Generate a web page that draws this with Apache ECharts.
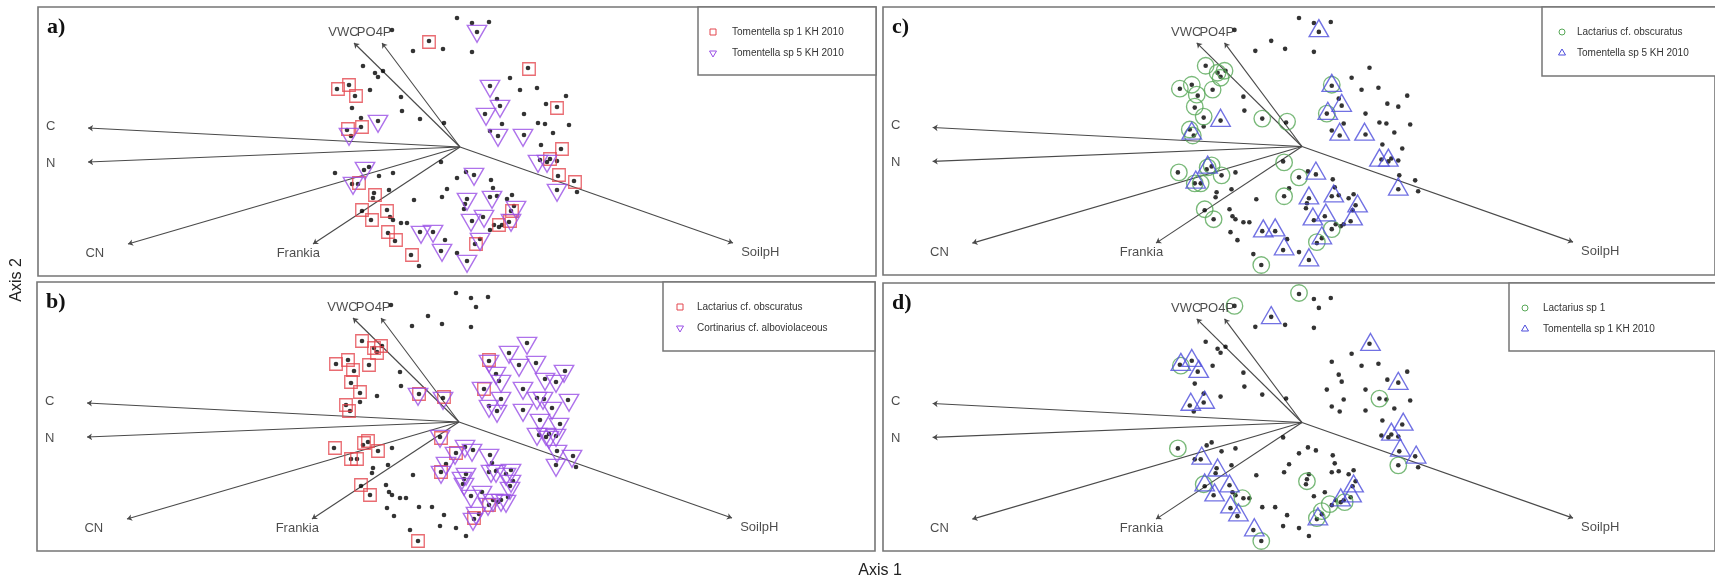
<!DOCTYPE html>
<html><head><meta charset="utf-8">
<script src="https://cdn.jsdelivr.net/npm/echarts@6/dist/echarts.min.js"></script>
<style>html,body{margin:0;padding:0;background:#fff}#c{width:1715px;height:580px}</style>
</head><body><div id="c"></div>
<script>
// ---- Data (ordination scores) ----
const envNames = ['C', 'N', 'CN', 'Frankia', 'VWC', 'PO4P', 'SoilpH'];
const envScores = [[-3.72, 0.19], [-3.72, -0.15], [-3.32, -0.97], [-1.47, -0.97], [-1.06, 1.04], [-0.78, 1.04], [2.73, -0.96]];

const sites = [
  [-0.03,1.29],[0.12,1.24],[0.29,1.25],[0.17,1.15],[-0.68,1.17],[-0.31,1.06],[-0.47,0.96],[-0.17,0.98],[0.12,0.95],
  [-0.97,0.81],[-0.85,0.74],[-0.77,0.76],[-0.82,0.70],[-1.23,0.58],[-1.11,0.62],[-1.05,0.51],[-0.90,0.57],[-0.59,0.50],
  [-1.08,0.39],[-0.58,0.36],[-0.99,0.29],[-0.82,0.26],[-0.40,0.28],[-0.16,0.24],[-1.13,0.17],[-0.99,0.20],[-1.09,0.11],
  [0.68,0.79],[0.50,0.69],[0.30,0.61],[0.60,0.57],[0.77,0.59],[0.37,0.48],[1.06,0.51],[0.40,0.41],[0.86,0.43],[0.97,0.40],
  [0.25,0.33],[0.64,0.33],[0.42,0.23],[0.78,0.24],[0.85,0.23],[1.09,0.22],[0.30,0.16],[0.38,0.11],[0.64,0.12],[0.93,0.14],
  [0.81,0.02],[1.01,-0.02],[0.90,-0.12],[0.80,-0.13],[0.87,-0.15],[0.97,-0.14],[0.98,-0.29],[1.14,-0.34],[1.17,-0.45],[0.97,-0.43],
  [-1.25,-0.26],[-0.91,-0.20],[-0.96,-0.23],[-1.08,-0.37],[-1.02,-0.37],[-0.81,-0.29],[-0.67,-0.26],[-0.71,-0.43],[-0.86,-0.46],
  [-0.87,-0.51],[-0.73,-0.63],[-0.98,-0.64],[-0.89,-0.73],[-0.70,-0.70],[-0.67,-0.73],[-0.59,-0.76],[-0.53,-0.76],[-0.72,-0.86],
  [-0.65,-0.94],[-0.46,-0.53],[-0.40,-0.85],[-0.27,-0.85],[-0.15,-0.93],[-0.49,-1.08],[-0.41,-1.19],[-0.19,-1.04],[-0.03,-1.06],[0.07,-1.14],
  [-0.19,-0.15],[0.06,-0.25],[0.14,-0.28],[-0.03,-0.31],[0.31,-0.33],[0.33,-0.41],[-0.13,-0.42],[-0.18,-0.50],[0.30,-0.50],[0.37,-0.49],
  [0.47,-0.52],[0.52,-0.48],[0.05,-0.57],[0.04,-0.62],[0.51,-0.64],[0.54,-0.59],[0.23,-0.70],[0.12,-0.74],[0.42,-0.78],[0.49,-0.75],
  [0.34,-0.78],[0.39,-0.80],[0.15,-0.97],[0.20,-0.92],[0.30,-0.83],[0.07,-0.52]
];

const tomentella1 = [
  [-0.31,1.05],[-1.22,0.58],[-1.11,0.62],[-1.04,0.51],[-1.12,0.18],[-0.98,0.20],[-1.01,-0.36],[-0.85,-0.48],[-0.98,-0.63],
  [-0.88,-0.73],[-0.73,-0.64],[-0.72,-0.85],[-0.64,-0.93],[-0.48,-1.08],[0.69,0.78],[0.97,0.39],[1.02,-0.02],[0.90,-0.12],
  [0.99,-0.28],[1.15,-0.35],[0.52,-0.64],[0.50,-0.74],[0.39,-0.78],[0.16,-0.97]
];
const tomentella5 = [
  [0.17,1.16],[-0.82,0.26],[-1.11,0.13],[-0.95,-0.21],[-1.07,-0.36],[0.30,0.61],[0.40,0.41],[0.26,0.33],[0.38,0.12],[0.63,0.12],
  [0.78,-0.14],[0.87,-0.14],[0.97,-0.43],[0.14,-0.27],[0.07,-0.52],[0.32,-0.50],[0.56,-0.60],[0.51,-0.73],[0.11,-0.73],[0.24,-0.69],
  [-0.39,-0.85],[-0.27,-0.84],[-0.18,-1.03],[0.07,-1.14],[0.20,-0.92]
];
const lactariusObscuratus = [
  [-0.97,0.81],[-0.85,0.74],[-0.78,0.76],[-0.82,0.69],[-1.23,0.58],[-1.11,0.62],[-1.06,0.52],[-0.90,0.57],[-1.08,0.40],[-0.99,0.30],
  [-1.13,0.17],[-1.10,0.11],[-0.40,0.28],[-0.15,0.25],[-1.24,-0.26],[-0.95,-0.21],[-0.91,-0.19],[-0.81,-0.29],[-1.08,-0.37],[-1.02,-0.37],
  [-0.98,-0.63],[-0.89,-0.73],[-0.18,-0.16],[-0.03,-0.31],[-0.18,-0.50],[-0.41,-1.19],[0.15,-0.96],[0.30,-0.83],[0.25,0.33],[0.30,0.62]
];
const cortinarius = [
  [0.68,0.79],[0.50,0.70],[0.30,0.61],[0.60,0.57],[0.77,0.60],[0.37,0.49],[1.05,0.51],[0.42,0.41],[0.86,0.43],[0.97,0.41],
  [0.23,0.34],[0.64,0.34],[0.42,0.24],[0.78,0.24],[0.84,0.24],[1.10,0.22],[0.30,0.16],[0.38,0.11],[0.64,0.12],[0.93,0.14],
  [0.81,0.02],[1.00,-0.02],[0.78,-0.12],[0.87,-0.12],[0.90,-0.15],[0.97,-0.13],[0.98,-0.29],[1.13,-0.34],[0.97,-0.43],
  [-0.41,0.28],[-0.16,0.24],[-0.19,-0.14],[-0.04,-0.31],[0.06,-0.24],[0.13,-0.28],[0.30,-0.33],[-0.13,-0.41],[-0.18,-0.50],
  [0.03,-0.56],[0.05,-0.62],[0.32,-0.49],[0.37,-0.49],[0.47,-0.52],[0.52,-0.48],[0.52,-0.59],[0.51,-0.66],[0.12,-0.74],
  [0.23,-0.70],[0.34,-0.78],[0.42,-0.78],[0.47,-0.79],[0.17,-0.91],[0.14,-0.97],[0.29,-0.82],[0.07,-0.52]
];
const lactarius1 = [
  [-0.03,1.30],[-0.68,1.17],[-1.22,0.57],[0.78,0.24],[0.97,-0.43],[-1.25,-0.26],[-0.99,-0.62],[-0.60,-0.76],[0.05,-0.59],
  [0.28,-0.82],[0.43,-0.80],[0.20,-0.89],[0.15,-0.96],[-0.41,-1.19]
];

const panelLetters = ['a)', 'b)', 'c)', 'd)'];
const axisTitles = ['Axis 1', 'Axis 2'];

// ---- Styling ----
const RED = '#e3474f', PURPLE = '#9a4fe6', BLUE = '#4d4ddc', GREEN = '#58a858';
const BORDER = '#767676';
const FONT = '"Liberation Sans", Arial, sans-serif';
const markerDefs = {
  square: {symbol: 'rect', symbolSize: 12.5, symbolRotate: 0, symbolOffset: [0, 0]},
  down: {symbol: 'triangle', symbolSize: [19.5, 17], symbolRotate: 180, symbolOffset: [0, 2.8]},
  up: {symbol: 'triangle', symbolSize: [19.5, 17], symbolRotate: 0, symbolOffset: [0, -2.8]},
  circle: {symbol: 'circle', symbolSize: 16.5, symbolRotate: 0, symbolOffset: [0, 0]}
};

const panels = [
  {grid: {left: 38, top: 7, width: 838, height: 269},
   sp: [['Tomentella sp 1 KH 2010', tomentella1, 'square', RED], ['Tomentella sp 5 KH 2010', tomentella5, 'down', PURPLE]],
   lg: {x: 698, y: 7, w: 178, h: 68, sx: 15, tx: 34}},
  {grid: {left: 37, top: 282, width: 838, height: 269},
   sp: [['Lactarius cf. obscuratus', lactariusObscuratus, 'square', RED], ['Cortinarius cf. alboviolaceous', cortinarius, 'down', PURPLE]],
   lg: {x: 663, y: 282, w: 212, h: 69, sx: 17, tx: 34}},
  {grid: {left: 883, top: 7, width: 838, height: 268},
   sp: [['Lactarius cf. obscuratus', lactariusObscuratus, 'circle', GREEN], ['Tomentella sp 5 KH 2010', tomentella5, 'up', BLUE]],
   lg: {x: 1542, y: 7, w: 180, h: 69, sx: 20, tx: 35}},
  {grid: {left: 883, top: 283, width: 838, height: 268},
   sp: [['Lactarius sp 1', lactarius1, 'circle', GREEN], ['Tomentella sp 1 KH 2010', tomentella1, 'up', BLUE]],
   lg: {x: 1509, y: 283, w: 210, h: 68, sx: 16, tx: 34}}
];

const grids = [], xAxes = [], yAxes = [], series = [], graphics = [];
const hiddenAxis = {axisLine: {show: false}, axisTick: {show: false}, axisLabel: {show: false}, splitLine: {show: false}};

function legendGlyph(kind, cx, cy, color) {
  const st = {fill: 'none', stroke: color, lineWidth: 1};
  if (kind === 'square') return {type: 'rect', shape: {x: cx - 3, y: cy - 3, width: 6, height: 6}, style: st};
  if (kind === 'circle') return {type: 'circle', shape: {cx: cx, cy: cy, r: 3}, style: st};
  if (kind === 'down') return {type: 'polygon', shape: {points: [[cx - 3.5, cy - 2], [cx + 3.5, cy - 2], [cx, cy + 4]]}, style: st};
  return {type: 'polygon', shape: {points: [[cx - 3.5, cy + 2], [cx + 3.5, cy + 2], [cx, cy - 4]]}, style: st};
}

panels.forEach((p, i) => {
  grids.push(Object.assign({show: true, borderColor: BORDER, borderWidth: 1.6, backgroundColor: 'transparent'}, p.grid));
  xAxes.push(Object.assign({type: 'value', gridIndex: i, min: -4.22, max: 4.16}, hiddenAxis));
  yAxes.push(Object.assign({type: 'value', gridIndex: i, min: -1.29, max: 1.40}, hiddenAxis));

  series.push({
    type: 'lines', coordinateSystem: 'cartesian2d', xAxisIndex: i, yAxisIndex: i, silent: true,
    symbol: ['none', 'arrow'], symbolSize: 5,
    lineStyle: {color: '#4a4a4a', width: 1.15, opacity: 1},
    data: envScores.map(s => ({coords: [[0, 0], s]}))
  });
  series.push({
    type: 'scatter', xAxisIndex: i, yAxisIndex: i, silent: true,
    symbol: 'circle', symbolSize: 4.6, itemStyle: {color: '#000'},
    data: sites
  });
  p.sp.forEach(([name, data, kind, color]) => {
    series.push(Object.assign({
      type: 'scatter', name: name, xAxisIndex: i, yAxisIndex: i, silent: true,
      itemStyle: {color: 'rgba(0,0,0,0)', borderColor: color, borderWidth: 1.35},
      data: data
    }, markerDefs[kind]));
  });
  series.push({
    type: 'scatter', xAxisIndex: i, yAxisIndex: i, silent: true, symbolSize: 0,
    label: {show: true, position: 'inside', formatter: q => q.data[2], fontSize: 13, fontFamily: FONT, color: '#1e1e1e'},
    data: envScores.map((s, k) => [s[0] * 1.1, s[1] * 1.1, envNames[k]])
  });

  // panel letter
  graphics.push({type: 'text', x: p.grid.left + 9, y: p.grid.top + 20, silent: true,
    style: {text: panelLetters[i], font: 'bold 22px "Liberation Serif", "Times New Roman", serif', fill: '#111',
            verticalAlign: 'middle', textVerticalAlign: 'middle'}});
  // legend box
  const L = p.lg;
  graphics.push({type: 'rect', shape: {x: L.x, y: L.y, width: L.w, height: L.h}, style: {fill: '#fff', stroke: BORDER, lineWidth: 1.5}, silent: true});
  p.sp.forEach(([name, data, kind, color], j) => {
    const cy = L.y + 25 + j * 21;
    graphics.push(Object.assign(legendGlyph(kind, L.x + L.sx, cy, color), {silent: true}));
    graphics.push({type: 'text', x: L.x + L.tx, y: cy, silent: true,
      style: {text: name, font: '10px ' + FONT, fill: '#333', verticalAlign: 'middle', textVerticalAlign: 'middle'}});
  });
});

graphics.push({type: 'text', x: 880, y: 571, silent: true,
  style: {text: axisTitles[0], font: '16px ' + FONT, fill: '#222', align: 'center', textAlign: 'center', verticalAlign: 'middle', textVerticalAlign: 'middle'}});
graphics.push({type: 'text', x: 17, y: 280, rotation: Math.PI / 2, silent: true,
  style: {text: axisTitles[1], font: '16px ' + FONT, fill: '#222', align: 'center', textAlign: 'center', verticalAlign: 'middle', textVerticalAlign: 'middle'}});

const chart = echarts.init(document.getElementById('c'), null, {renderer: 'canvas'});
chart.setOption({
  animation: false,
  backgroundColor: '#fff',
  grid: grids, xAxis: xAxes, yAxis: yAxes, series: series, graphic: graphics
});
</script></body></html>
